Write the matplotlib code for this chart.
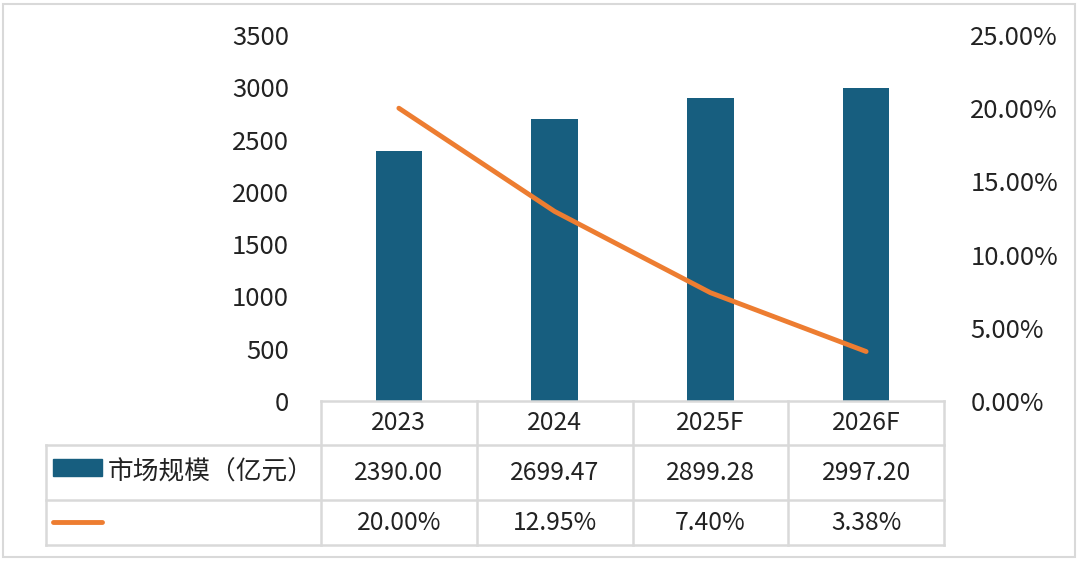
import matplotlib.pyplot as plt
from matplotlib.patches import Rectangle
from matplotlib.lines import Line2D
from matplotlib.ticker import FuncFormatter

plt.rcParams['font.family'] = ['Noto Sans CJK SC', 'DejaVu Sans']

years = ['2023', '2024', '2025F', '2026F']
scale = [2390.00, 2699.47, 2899.28, 2997.20]
growth = [20.00, 12.95, 7.40, 3.38]
series_name = '市场规模（亿元）'

bar_color = '#175e7f'
line_color = '#ed7d31'
grid_color = '#d9d9d9'

W, H = 1080, 563
fig = plt.figure(figsize=(W / 100, H / 100), dpi=100)

def fx(px):
    return px / W

def fy(py):
    return 1 - py / H

# plot area in pixels
left, right, top, bottom = 321, 944, 35, 401
ax = fig.add_axes([fx(left), fy(bottom), fx(right - left), (bottom - top) / H])
x = range(len(years))
ax.bar(x, scale, width=0.3, color=bar_color)
ax.set_xlim(-0.5, len(years) - 0.5)
ax.set_ylim(0, 3500)
ax.set_yticks(range(0, 3501, 500))
ax.set_xticks([])
for s in ax.spines.values():
    s.set_visible(False)
ax.tick_params(axis='y', length=0, labelsize=18.5, pad=23, colors='#222222')

ax2 = ax.twinx()
ax2.plot(x, growth, color=line_color, lw=3.5, solid_capstyle='round')
ax2.set_ylim(0, 25)
ax2.set_yticks(range(0, 26, 5))
ax2.yaxis.set_major_formatter(FuncFormatter(lambda v, p: f'{v:.2f}%'))
for s in ax2.spines.values():
    s.set_visible(False)
ax2.tick_params(axis='y', length=0, labelsize=18.5, pad=19, colors='#222222')

# data table below the plot
col_w = (right - left) / len(years)
rows = [401, 445, 500, 545]
tbl_left = 46
lw = 1.8
# horizontal lines
fig.add_artist(Line2D([fx(left), fx(right)], [fy(rows[0])] * 2, color=grid_color, lw=lw))
for r in rows[1:]:
    fig.add_artist(Line2D([fx(tbl_left), fx(right)], [fy(r)] * 2, color=grid_color, lw=lw))
# vertical lines
fig.add_artist(Line2D([fx(tbl_left)] * 2, [fy(rows[1]), fy(rows[3])], color=grid_color, lw=lw))
for i in range(len(years) + 1):
    xp = left + i * col_w
    fig.add_artist(Line2D([fx(xp)] * 2, [fy(rows[0]), fy(rows[3])], color=grid_color, lw=lw))

tc = '#222222'
fs = 17.8
for i, yr in enumerate(years):
    cx = fx(left + (i + 0.5) * col_w)
    fig.text(cx, fy((rows[0] + rows[1]) / 2), yr, ha='center', va='center', fontsize=fs, color=tc)
    fig.text(cx, fy((rows[1] + rows[2]) / 2), f'{scale[i]:.2f}', ha='center', va='center', fontsize=fs, color=tc)
    fig.text(cx, fy((rows[2] + rows[3]) / 2), f'{growth[i]:.2f}%', ha='center', va='center', fontsize=fs, color=tc)

# legend keys inside the table
fig.add_artist(Rectangle((fx(53), fy(476)), fx(102 - 53), (476 - 459) / H, color=bar_color))
fig.text(fx(108), fy((rows[1] + rows[2]) / 2), series_name, ha='left', va='center', fontsize=18.5, color=tc)
fig.add_artist(Line2D([fx(53), fx(102)], [fy(522)] * 2, color=line_color, lw=3.5, solid_capstyle='round'))

# outer frame
fig.add_artist(Rectangle((fx(3), fy(557)), fx(1075 - 3), (557 - 4) / H, fill=False, ec=grid_color, lw=1.5))

fig.savefig('out.png', dpi=100)
